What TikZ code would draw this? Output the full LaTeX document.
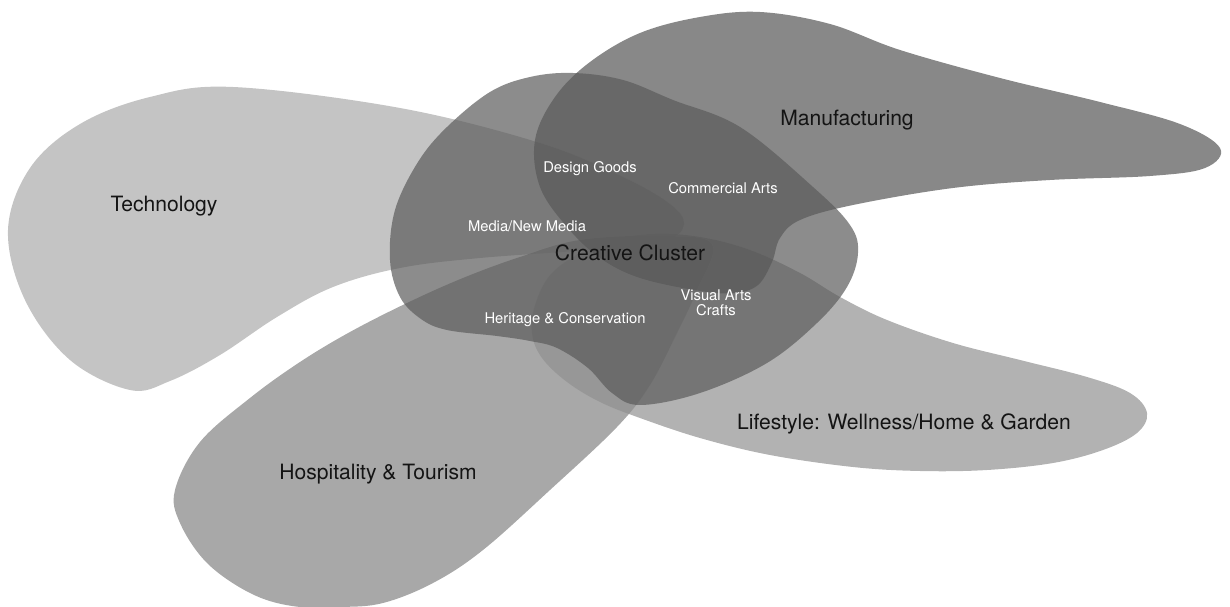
\documentclass[tikz,border=0pt]{standalone}
\usepackage{fontspec}
\setmainfont{TeX Gyre Heros}
\usepackage{tikz}

\definecolor{techgray}{RGB}{171,171,171}
\definecolor{hospgray}{RGB}{131,131,131}
\definecolor{lifegray}{RGB}{145,145,145}
\definecolor{manugray}{RGB}{85,85,85}
\definecolor{clustgray}{RGB}{91,91,91}

\tikzset{
  blob/.style={fill=#1, fill opacity=0.7, draw=none},
  biglabel/.style={text=black!92, inner sep=1pt, font=\fontsize{12}{14}\selectfont},
  smalllabel/.style={text=white, inner sep=1pt, align=center, font=\fontsize{8.4}{8.3}\selectfont}
}

\begin{document}
\begin{tikzpicture}[x=0.02cm, y=-0.02cm]
\useasboundingbox (0,0) rectangle (1230,607);

%the five fields
\fill[blob=techgray] plot[smooth cycle, tension=0.6] coordinates {
  (233,87) (400,108) (540,143) (623,177) (670,204) (684,224) (666,240)
  (600,249) (480,258) (400,268) (333,287) (277,317) (220,355) (170,381)
  (130,390) (70,360) (25,300) (8,230) (30,168) (80,124) (150,97)};
\fill[blob=hospgray] plot[smooth cycle, tension=0.6] coordinates {
  (712,244) (660,236) (580,240) (520,257) (463,278) (407,303) (350,332)
  (300,362) (250,398) (200,442) (175,490) (180,523) (207,563) (250,593)
  (292,606) (340,607) (383,603) (433,583) (483,550) (550,490) (617,427)
  (650,385) (677,333) (697,290)};
\fill[blob=lifegray] plot[smooth cycle, tension=0.6] coordinates {
  (600,244) (650,234) (700,237) (750,250) (800,273) (840,297) (887,320)
  (953,343) (1020,360) (1087,377) (1130,393) (1147,413) (1137,433)
  (1103,450) (1053,463) (987,470) (920,471) (853,467) (770,455) (700,438)
  (640,418) (600,402) (567,382) (542,358) (532,333) (536,302) (555,270)};
\fill[blob=manugray] plot[smooth cycle, tension=0.6] coordinates {
  (760,12) (830,24) (900,50) (1000,78) (1100,102) (1180,124) (1220,148)
  (1205,168) (1150,176) (1050,180) (953,188) (853,205) (800,220) (780,238)
  (772,262) (758,285) (735,293) (700,291) (640,278) (600,258) (567,227)
  (540,187) (535,140) (555,97) (590,62) (640,33) (700,17)};
\fill[blob=clustgray] plot[smooth cycle, tension=0.6] coordinates {
  (573,73) (623,80) (673,100) (740,127) (813,187) (850,225) (858,253)
  (847,287) (817,323) (767,363) (700,393) (640,405) (612,393) (588,368)
  (557,348) (530,341) (497,336) (447,330) (421,319) (400,297) (390,260)
  (395,210) (418,162) (447,127) (490,92) (530,77)};

%labels
\path (164,206) node(tech)[biglabel]{Technology}
  (847,120) node(manu)[biglabel]{Manufacturing}
  (630,253) node(clust)[biglabel]{Creative Cluster}
  (378,474) node(hosp)[biglabel]{Hospitality \& Tourism}
  (904,424) node(life)[biglabel]{Lifestyle: Wellness/Home \& Garden};
\path (590,169) node(design)[smalllabel]{Design Goods}
  (723,188) node(comm)[smalllabel]{Commercial Arts}
  (527,226) node(media)[smalllabel]{Media/New Media}
  (565,320) node(herit)[smalllabel]{Heritage \& Conservation}
  (716,303) node(visual)[smalllabel]{Visual Arts\\Crafts};
\end{tikzpicture}
\end{document}
